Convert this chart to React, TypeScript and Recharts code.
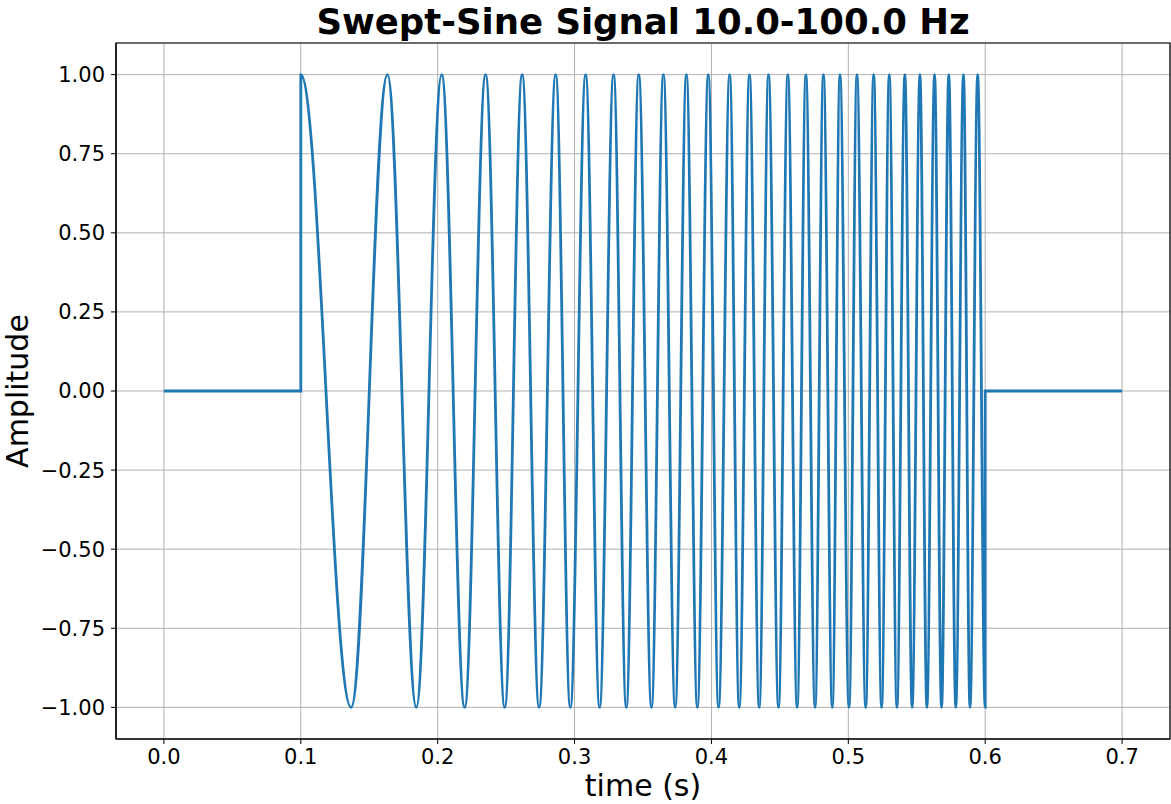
import { LineChart, Line, XAxis, YAxis, CartesianGrid, ReferenceArea } from 'recharts';

// times (s) of the crests and troughs
const peakTimes = [
  0.1, 0.1633, 0.2029, 0.235, 0.2617, 0.2862, 0.3081, 0.3285, 0.3469, 0.3649,
  0.3817, 0.3977, 0.4133, 0.4278, 0.4417, 0.4558, 0.469, 0.4818, 0.4939, 0.5063,
  0.5185, 0.5299, 0.5413, 0.5523, 0.563, 0.5734, 0.5841, 0.5945,
];
const troughTimes = [
  0.1368, 0.1844, 0.2197, 0.249, 0.2741, 0.2969, 0.3183, 0.3378, 0.3562, 0.3735,
  0.3897, 0.4052, 0.4203, 0.4349, 0.449, 0.4626, 0.4757, 0.4883, 0.5005, 0.5127,
  0.5243, 0.5355, 0.5466, 0.5574, 0.5681, 0.5785, 0.5889, 0.6,
];
const plotStart = 0;
const plotEnd = 0.7;

const xTicks = [0, 0.1, 0.2, 0.3, 0.4, 0.5, 0.6, 0.7];
const yTicks = [-1, -0.75, -0.5, -0.25, 0, 0.25, 0.5, 0.75, 1];

const signal: { t: number; a: number }[] = [
  { t: plotStart, a: 0 },
  { t: peakTimes[0], a: 0 },
];
peakTimes.forEach((p, i) => {
  signal.push({ t: p, a: 1 });
  signal.push({ t: troughTimes[i], a: -1 });
});
const last = troughTimes[troughTimes.length - 1];
signal.push({ t: last, a: 0 });
signal.push({ t: plotEnd, a: 0 });

// half-cosine-like segments: flat tangents at every sample point
const halfCosine = (context: any) => {
  let x0 = 0;
  let y0 = 0;
  let started = false;
  return {
    areaStart() {},
    areaEnd() {},
    lineStart() {
      started = false;
    },
    lineEnd() {},
    point(x: number, y: number) {
      x = +x;
      y = +y;
      if (!started) {
        context.moveTo(x, y);
        started = true;
      } else {
        const k = (x - x0) * 0.3634;
        context.bezierCurveTo(x0 + k, y0, x - k, y, x, y);
      }
      x0 = x;
      y0 = y;
    },
  };
};

const font = 'DejaVu Sans, sans-serif';
const tickStyle = { fill: '#000', fontSize: 21, fontFamily: font };
const fmtY = (v: number) => (v < 0 ? '\u2212' + (-v).toFixed(2) : v.toFixed(2));

const App = () => (
  <div style={{ position: 'absolute', left: 0, top: 0, width: 1171, height: 804, background: '#fff' }}>
    <LineChart width={1171} height={804} data={signal} margin={{ top: 43, right: 1, bottom: 35, left: 36 }}>
      <CartesianGrid stroke="#b0b0b0" strokeWidth={1} />
      <XAxis
        dataKey="t"
        type="number"
        domain={[-0.035, 0.735]}
        allowDataOverflow
        ticks={xTicks}
        tickFormatter={(v) => v.toFixed(1)}
        tick={tickStyle}
        tickSize={5}
        tickMargin={5}
        height={30}
        axisLine={{ stroke: '#000', strokeWidth: 1.2 }}
        tickLine={{ stroke: '#000' }}
      />
      <YAxis
        type="number"
        domain={[-1.1, 1.1]}
        allowDataOverflow
        ticks={yTicks}
        tickFormatter={fmtY}
        tick={tickStyle}
        tickSize={5}
        tickMargin={6}
        width={80}
        axisLine={{ stroke: '#000', strokeWidth: 1.2 }}
        tickLine={{ stroke: '#000' }}
      />
      <ReferenceArea x1={-0.035} x2={0.735} y1={-1.1} y2={1.1} fill="none" stroke="#000" strokeWidth={1.2} ifOverflow="visible" />
      <Line dataKey="a" type={halfCosine as any} stroke="#1f77b4" strokeWidth={2.8} dot={false} isAnimationActive={false} />
    </LineChart>
    <svg width={1171} height={804} style={{ position: 'absolute', left: 0, top: 0, pointerEvents: 'none' }}>
      <text x={643} y={34} textAnchor="middle" fontFamily={font} fontWeight="bold" fontSize={35.5} fill="#000">
        Swept-Sine Signal 10.0-100.0 Hz
      </text>
      <text x={643} y={796} textAnchor="middle" fontFamily={font} fontSize={30} fill="#000">
        time (s)
      </text>
      <text x={0} y={0} transform="translate(28 391) rotate(-90)" textAnchor="middle" fontFamily={font} fontSize={30} fill="#000">
        Amplitude
      </text>
    </svg>
  </div>
);

export default App;
